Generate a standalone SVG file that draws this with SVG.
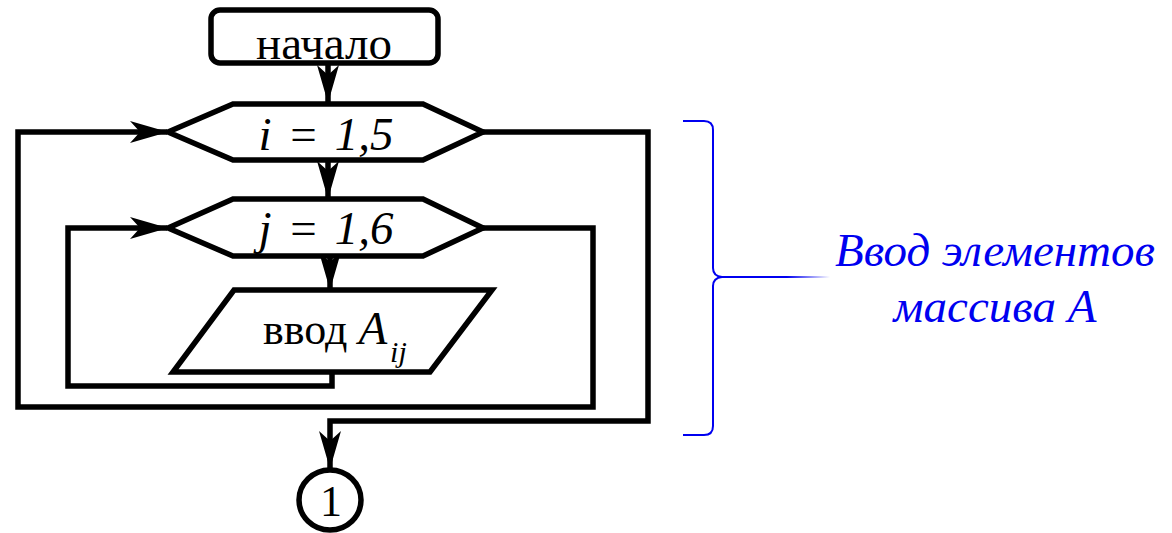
<svg xmlns="http://www.w3.org/2000/svg" width="1172" height="533" viewBox="0 0 1172 533">
<style>
.sh{fill:#fff;stroke:#000;stroke-width:5.5;stroke-linejoin:miter}
.ln{fill:none;stroke:#000;stroke-width:5.5;stroke-linejoin:miter}
</style>
<defs>
<marker id="ah" markerUnits="userSpaceOnUse" markerWidth="38" markerHeight="22" viewBox="0 0 38 22" refX="37" refY="11" orient="auto">
<path d="M0,0 L38,11 L0,22 L10,11 Z" fill="#000"/>
</marker>
<linearGradient id="fade" x1="0" y1="0" x2="1" y2="0">
<stop offset="0" stop-color="#0000f0"/>
<stop offset="0.6" stop-color="#0000f0"/>
<stop offset="1" stop-color="#0000f0" stop-opacity="0"/>
</linearGradient>
</defs>
<g id="connectors">
<path class="ln" d="M328,64 L328,102" marker-end="url(#ah)"/>
<path class="ln" d="M328,160 L328,198" marker-end="url(#ah)"/>
<path class="ln" d="M330,256 L330,289" marker-end="url(#ah)"/>
<path class="ln" d="M332,372 L332,386 L68,386 L68,228 L167,228" marker-end="url(#ah)"/>
<path class="ln" d="M483,228 L593,228 L593,407 L18,407 L18,132 L167,132" marker-end="url(#ah)"/>
<path class="ln" d="M483,132 L648,132 L648,421 L330,421 L330,468" marker-end="url(#ah)"/>
</g>
<g id="start">
<rect class="sh" x="211" y="10" width="227" height="53" rx="9"/>
<text x="324" y="59" font-family="Liberation Serif" font-size="47" text-anchor="middle">начало</text>
</g>
<g id="loop-i">
<polygon class="sh" points="168,132 233,104 423,104 483,132 423,160 233,160"/>
<text x="326" y="150" font-family="Liberation Serif" font-style="italic" font-size="47" text-anchor="middle" word-spacing="4">i = 1,5</text>
</g>
<g id="loop-j">
<polygon class="sh" points="168,228 233,199 423,199 483,228 423,256 233,256"/>
<text x="326" y="244" font-family="Liberation Serif" font-style="italic" font-size="47" text-anchor="middle" word-spacing="4">j = 1,6</text>
</g>
<g id="input">
<polygon class="sh" points="234,290 492,290 430,372 173,372"/>
<text x="263" y="344" font-family="Liberation Serif" font-size="44">ввод <tspan font-style="italic" font-size="47">A</tspan><tspan font-style="italic" font-size="30" dy="18" dx="3">ij</tspan></text>
</g>
<g id="connector-1">
<ellipse class="sh" cx="330" cy="500" rx="31" ry="30"/>
<text x="331" y="516" font-family="Liberation Serif" font-size="44" text-anchor="middle">1</text>
</g>
<g id="brace">
<path d="M683,121 L704,121 Q713,121 713,130 L713,268 Q713,276 722,277 Q713,278 713,286 L713,426 Q713,435 704,435 L683,435" fill="none" stroke="#0000f0" stroke-width="2"/>
<rect x="722" y="276" width="108" height="2" fill="url(#fade)"/>
<text x="995" y="266" font-family="Liberation Serif" font-style="italic" font-size="47" fill="#0000f0" text-anchor="middle">Ввод элементов</text>
<text x="995" y="322" font-family="Liberation Serif" font-style="italic" font-size="47" fill="#0000f0" text-anchor="middle">массива A</text>
</g>
</svg>
